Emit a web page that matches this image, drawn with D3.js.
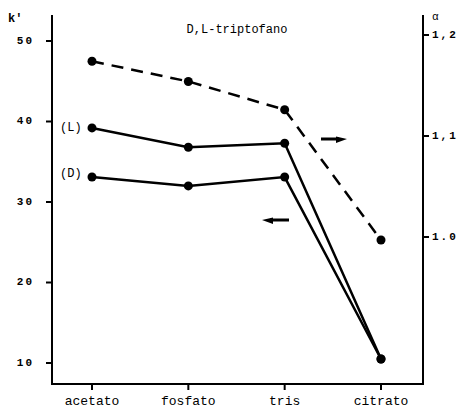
<!DOCTYPE html>
<html>
<head>
<meta charset="utf-8">
<script src="https://cdn.jsdelivr.net/npm/d3@7"></script>
<style>
body { margin: 0; background: white; }
text { font-family: "Liberation Mono", "DejaVu Sans Mono", monospace; fill: black; }
</style>
</head>
<body>
<div id="canvas"></div>
<script>
"use strict"
let svgWidth = 465;
let svgHeight = 410;

// buffers on the x axis
let categories = ["acetato", "fosfato", "tris", "citrato"];

// k' values for each enantiomer (left axis)
let kL = [39.2, 36.8, 37.3, 10.5];
let kD = [33.1, 32.0, 33.1, 10.5];

// separation factor alpha (right axis, dashed)
let alpha = [1.174, 1.154, 1.126, 0.997];

let kTicks = [10, 20, 30, 40, 50];
let alphaTicks = [1.0, 1.1, 1.2];
let alphaTickLabels = ["1.0", "1,1", "1,2"];

let axisLeft = 52;
let axisRight = 423;
let axisTop = 15;
let axisBottom = 384;

let svg = d3.select("#canvas")
    .append("svg")
    .attr("width", svgWidth)
    .attr("height", svgHeight);

let xScale = d3.scalePoint()
    .domain(categories)
    .range([92, 381]);

let kScale = d3.scaleLinear()
    .domain([10, 50])
    .range([363, 41]);

let alphaScale = d3.scaleLinear()
    .domain([1.0, 1.2])
    .range([237, 35]);

// frame: left, bottom and right axis lines
svg.append("path")
    .attr("d", "M" + axisLeft + "," + axisTop + "V" + axisBottom + "H" + axisRight + "V" + axisTop)
    .attr("fill", "none")
    .attr("stroke", "black")
    .attr("stroke-width", 2);

// left ticks and labels
for (let i = 0; i < kTicks.length; i++) {
    let y = kScale(kTicks[i]);
    svg.append("line")
        .attr("x1", axisLeft - 6)
        .attr("x2", axisLeft)
        .attr("y1", y)
        .attr("y2", y)
        .attr("stroke", "black")
        .attr("stroke-width", 2);
    svg.append("text")
        .attr("x", 34)
        .attr("y", y)
        .attr("text-anchor", "end")
        .attr("dominant-baseline", "middle")
        .attr("font-size", 11)
        .attr("font-weight", "bold")
        .attr("letter-spacing", 2)
        .text(kTicks[i]);
}

// right ticks and labels
for (let i = 0; i < alphaTicks.length; i++) {
    let y = alphaScale(alphaTicks[i]);
    svg.append("line")
        .attr("x1", axisRight)
        .attr("x2", axisRight + 6)
        .attr("y1", y)
        .attr("y2", y)
        .attr("stroke", "black")
        .attr("stroke-width", 2);
    svg.append("text")
        .attr("x", 432)
        .attr("y", y)
        .attr("dominant-baseline", "middle")
        .attr("font-size", 11)
        .attr("font-weight", "bold")
        .attr("letter-spacing", 2)
        .text(alphaTickLabels[i]);
}

// bottom ticks and category labels
for (let i = 0; i < categories.length; i++) {
    let x = xScale(categories[i]);
    svg.append("line")
        .attr("x1", x)
        .attr("x2", x)
        .attr("y1", axisBottom)
        .attr("y2", axisBottom + 6)
        .attr("stroke", "black")
        .attr("stroke-width", 2);
    svg.append("text")
        .attr("x", x)
        .attr("y", 402)
        .attr("text-anchor", "middle")
        .attr("dominant-baseline", "middle")
        .attr("font-size", 13)
        .text(categories[i]);
}

// axis titles and chart title
svg.append("text")
    .attr("x", 8)
    .attr("y", 22)
    .attr("font-size", 12)
    .attr("font-weight", "bold")
    .text("k'");

svg.append("text")
    .attr("x", 432)
    .attr("y", 20)
    .attr("font-size", 11)
    .text("α");

svg.append("text")
    .attr("x", 237)
    .attr("y", 33)
    .attr("text-anchor", "middle")
    .attr("font-size", 12)
    .text("D,L-triptofano");

// draws one series as a line with dots
function drawSeries(values, yScale, dashed) {
    let line = d3.line()
        .x(function(d, i) { return xScale(categories[i]); })
        .y(function(d) { return yScale(d); });

    svg.append("path")
        .datum(values)
        .attr("d", line)
        .attr("fill", "none")
        .attr("stroke", "black")
        .attr("stroke-width", 2.5)
        .attr("stroke-dasharray", dashed ? "12,8" : null);

    svg.append("g")
        .selectAll("circle")
        .data(values)
        .join("circle")
        .attr("cx", function(d, i) { return xScale(categories[i]); })
        .attr("cy", function(d) { return yScale(d); })
        .attr("r", 4.5)
        .attr("fill", "black");
}

drawSeries(alpha, alphaScale, true);
drawSeries(kL, kScale, false);
drawSeries(kD, kScale, false);

// series labels
svg.append("text")
    .attr("x", 60)
    .attr("y", kScale(kL[0]))
    .attr("dominant-baseline", "middle")
    .attr("font-size", 12)
    .text("(L)");

svg.append("text")
    .attr("x", 60)
    .attr("y", kScale(kD[0]) - 3)
    .attr("dominant-baseline", "middle")
    .attr("font-size", 12)
    .text("(D)");

// arrows pointing to the axis each curve belongs to
function drawArrow(x1, x2, y) {
    let dir = x2 > x1 ? 1 : -1;
    svg.append("line")
        .attr("x1", x1)
        .attr("x2", x2 - dir * 8)
        .attr("y1", y)
        .attr("y2", y)
        .attr("stroke", "black")
        .attr("stroke-width", 3);
    svg.append("path")
        .attr("d", "M" + x2 + "," + y + "L" + (x2 - dir * 11) + "," + (y - 2.5) + "L" + (x2 - dir * 11) + "," + (y + 4) + "Z")
        .attr("fill", "black");
}

drawArrow(321, 347, 139);
drawArrow(289, 262, 220);
</script>
</body>
</html>
